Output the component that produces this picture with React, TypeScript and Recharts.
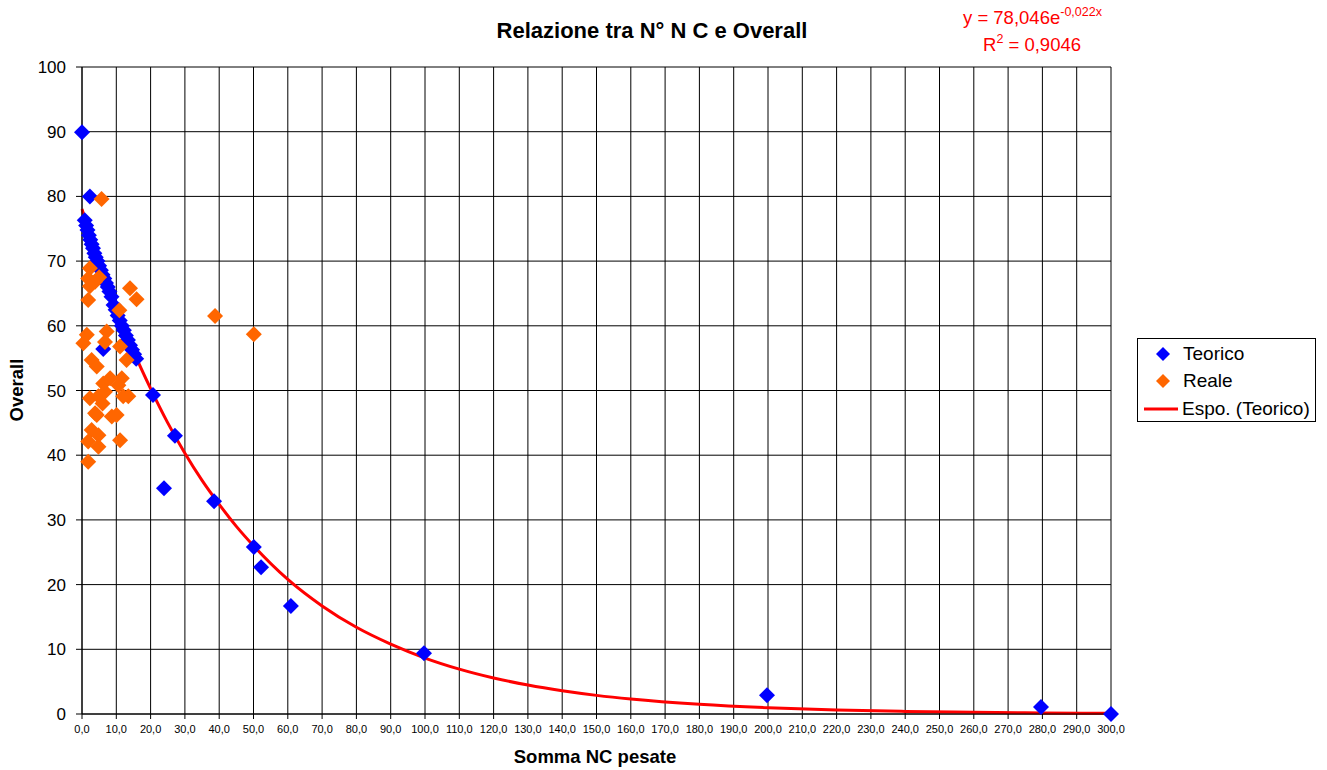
import React from "react"
import { ComposedChart, Scatter, Line, XAxis, YAxis, CartesianGrid } from "recharts"

const teoricoX = [0, 2.3, 0.8, 1.2, 1.6, 2.0, 2.4, 2.8, 3.2, 3.6, 4.0, 4.5, 5.0, 5.5, 6.0, 6.5, 7.0, 7.5, 8.0, 8.6, 9.2, 9.8, 10.4, 11.0, 11.6, 12.2, 12.8, 13.4, 14.0, 14.6, 15.2, 15.8, 6.2, 20.7, 23.9, 27.1, 38.5, 50.1, 52.2, 60.9, 99.7, 199.7, 279.6, 300]
const teoricoY = [89.9, 80.0, 76.3, 75.5, 74.8, 74.0, 73.3, 72.6, 72.0, 71.2, 70.6, 70.0, 69.3, 68.6, 67.9, 67.3, 66.6, 66.0, 65.3, 64.5, 63.2, 62.5, 61.6, 60.8, 60.0, 59.3, 58.5, 57.8, 57.0, 56.3, 55.6, 54.9, 56.4, 49.3, 34.9, 43.0, 32.9, 25.8, 22.7, 16.7, 9.4, 2.9, 1.1, 0]

const realeX = [5.7, 2.3, 1.8, 3.8, 2.3, 5.0, 1.8, 14.0, 15.9, 10.9, 0.4, 1.4, 7.2, 6.7, 11.1, 2.8, 4.3, 13.0, 8.2, 11.6, 6.2, 2.3, 4.8, 6.7, 10.6, 13.5, 4.3, 8.7, 10.1, 2.8, 4.8, 1.8, 4.8, 11.1, 1.8, 38.8, 50.1, 3.8, 6.0, 12.0]
const realeY = [79.6, 68.9, 67.3, 66.8, 66.1, 67.5, 64.0, 65.8, 64.1, 62.4, 57.3, 58.6, 59.1, 57.5, 56.8, 54.7, 53.7, 54.7, 51.9, 51.9, 51.1, 48.8, 49.1, 49.8, 50.8, 49.1, 46.2, 46.0, 46.2, 43.9, 43.1, 42.1, 41.3, 42.3, 39.0, 61.5, 58.7, 46.5, 48.0, 49.1]

// Espo. (Teorico) trend line
const trendX = [0, 5, 10, 15, 20, 25, 30, 35, 40, 45, 50, 60, 70, 80, 90, 100, 110, 120, 130, 140, 150, 160, 180, 200, 220, 240, 260, 280, 300]
const trendY = [78.05, 69.9, 62.6, 56.1, 50.3, 45.0, 40.3, 36.1, 32.4, 29.0, 26.0, 20.8, 16.7, 13.4, 10.8, 8.65, 6.94, 5.57, 4.47, 3.59, 2.88, 2.31, 1.49, 0.96, 0.62, 0.40, 0.26, 0.16, 0.11]

const xTicks = Array.from({ length: 31 }, (_, i) => i * 10)
const yTicks = [0, 10, 20, 30, 40, 50, 60, 70, 80, 90, 100]

const teorico = teoricoX.map((x, i) => ({ x, y: teoricoY[i] }))
const reale = realeX.map((x, i) => ({ x, y: realeY[i] }))
const trend = trendX.map((x, i) => ({ x, y: trendY[i] }))

const font = "'Liberation Sans', Arial, sans-serif"

const Diamond = (props: any) => {
  const { cx, cy, fill } = props
  if (cx == null || cy == null) return null
  const r = 8
  return <polygon points={`${cx},${cy - r} ${cx + r},${cy} ${cx},${cy + r} ${cx - r},${cy}`} fill={fill} />
}

export default function App() {
  return (
    <div style={{ position: "absolute", left: 0, top: 0, width: 1327, height: 770, background: "#fff", fontFamily: font }}>
      <ComposedChart width={1327} height={770} margin={{ top: 67, right: 216, bottom: 26, left: 22 }}>
        <CartesianGrid stroke="#000" strokeWidth={1} />
        <XAxis
          dataKey="x"
          type="number"
          domain={[0, 300]}
          ticks={xTicks}
          interval={0}
          height={30}
          tickFormatter={(v) => v.toFixed(1).replace(".", ",")}
          stroke="#000"
          tick={{ fill: "#000", fontSize: 11, fontFamily: font }}
          tickSize={5}
          tickMargin={6}
        />
        <YAxis
          type="number"
          domain={[0, 100]}
          ticks={yTicks}
          interval={0}
          width={60}
          stroke="#000"
          tick={{ fill: "#000", fontSize: 17, fontFamily: font }}
          tickSize={6}
          tickMargin={10}
        />
        <Scatter data={teorico} dataKey="y" fill="#0000ff" shape={<Diamond />} isAnimationActive={false} />
        <Scatter data={reale} dataKey="y" fill="#ff6600" shape={<Diamond />} isAnimationActive={false} />
        <Line data={trend} dataKey="y" type="monotone" stroke="#ff0000" strokeWidth={3} dot={false} activeDot={false} isAnimationActive={false} />
      </ComposedChart>

      <div style={{ position: "absolute", left: 0, width: 1304, top: 18, textAlign: "center", fontSize: 22, fontWeight: "bold" }}>
        Relazione tra N° N C e Overall
      </div>
      <div style={{ position: "absolute", left: 963, top: 5, color: "#ff0000", fontSize: 18.5, whiteSpace: "nowrap" }}>
        y = 78,046e<sup style={{ fontSize: 12.5, verticalAlign: 8 }}>-0,022x</sup>
      </div>
      <div style={{ position: "absolute", left: 983, top: 32, color: "#ff0000", fontSize: 18.5, whiteSpace: "nowrap" }}>
        R<sup style={{ fontSize: 12.5, verticalAlign: 8 }}>2</sup> = 0,9046
      </div>
      <div style={{ position: "absolute", left: 0, width: 1190, top: 746, textAlign: "center", fontSize: 18.5, fontWeight: "bold" }}>
        Somma NC pesate
      </div>
      <div style={{ position: "absolute", left: 17, top: 390, fontSize: 18.5, fontWeight: "bold", transform: "translate(-50%, -50%) rotate(-90deg)" }}>
        Overall
      </div>

      <div style={{ position: "absolute", left: 1137, top: 338, width: 177, height: 82, border: "1px solid #000", fontSize: 19 }}>
        <div style={{ position: "absolute", top: 4, left: 17, display: "flex", alignItems: "center" }}>
          <svg width={16} height={16}><polygon points="8,1 15,8 8,15 1,8" fill="#0000ff" /></svg>
          <span style={{ marginLeft: 12 }}>Teorico</span>
        </div>
        <div style={{ position: "absolute", top: 31, left: 17, display: "flex", alignItems: "center" }}>
          <svg width={16} height={16}><polygon points="8,1 15,8 8,15 1,8" fill="#ff6600" /></svg>
          <span style={{ marginLeft: 12 }}>Reale</span>
        </div>
        <div style={{ position: "absolute", top: 59, left: 6, display: "flex", alignItems: "center" }}>
          <svg width={34} height={16}><line x1={0} y1={8} x2={34} y2={8} stroke="#ff0000" strokeWidth={3} /></svg>
          <span style={{ marginLeft: 4 }}>Espo. (Teorico)</span>
        </div>
      </div>
    </div>
  )
}
